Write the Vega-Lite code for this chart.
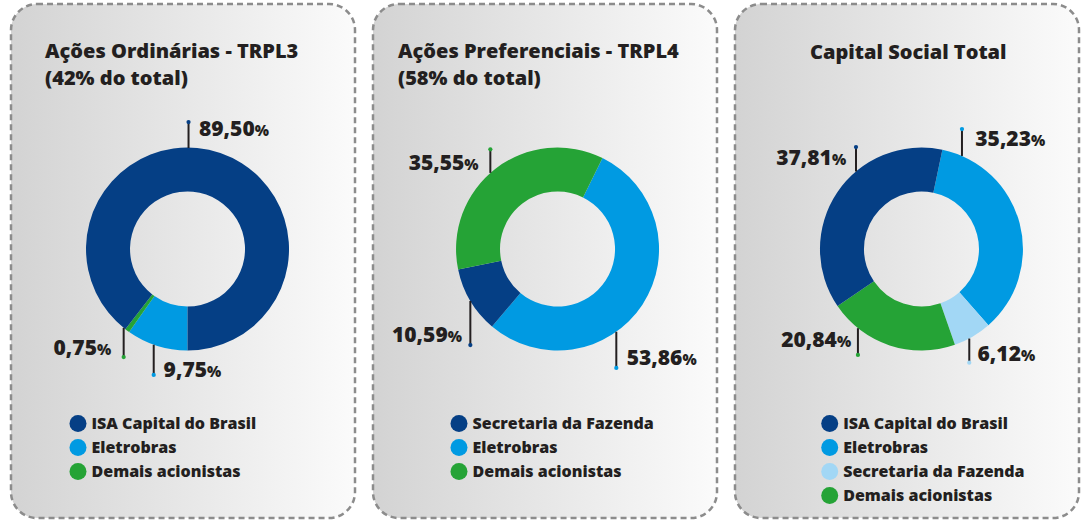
{
  "$schema": "https://vega.github.io/schema/vega-lite/v6.json",
  "padding": {"left": 9, "top": 2, "right": 0, "bottom": 0},
  "spacing": 14,
  "datasets": {
    "slices": [
      {"panel": 1, "holder": "Eletrobras", "pct": 9.75, "ord": 1, "lineX": -33.3, "ringY": -94.3, "dotY": -124.1, "labelX": 19.2, "labelY": -126.1},
      {"panel": 1, "holder": "Demais acionistas", "pct": 0.75, "ord": 2, "lineX": -62.9, "ringY": -77.7, "dotY": -106.4, "labelX": -89.2, "labelY": -104.4},
      {"panel": 1, "holder": "ISA Capital do Brasil", "pct": 89.5, "ord": 3, "lineX": 1, "ringY": 99.5, "dotY": 125.1, "labelX": 66.2, "labelY": 111.3},
      {"panel": 2, "holder": "Eletrobras", "pct": 53.86, "ord": 1, "lineX": 57.9, "ringY": -81.5, "dotY": -117.2, "labelX": 123.0, "labelY": -114.0},
      {"panel": 2, "holder": "Secretaria da Fazenda", "pct": 10.59, "ord": 2, "lineX": -85.9, "ringY": -51.2, "dotY": -94.6, "labelX": -108.2, "labelY": -91.6},
      {"panel": 2, "holder": "Demais acionistas", "pct": 35.55, "ord": 3, "lineX": -66.2, "ringY": 75.0, "dotY": 98.2, "labelX": -91.8, "labelY": 77.5},
      {"panel": 3, "holder": "Eletrobras", "pct": 35.23, "ord": 1, "lineX": 39.9, "ringY": 91.7, "dotY": 118.2, "labelX": 107.9, "labelY": 101.5},
      {"panel": 3, "holder": "Secretaria da Fazenda", "pct": 6.12, "ord": 2, "lineX": 47.1, "ringY": -88.2, "dotY": -112.0, "labelX": 98.0, "labelY": -110.6},
      {"panel": 3, "holder": "Demais acionistas", "pct": 20.84, "ord": 3, "lineX": -62.6, "ringY": -78.0, "dotY": -104.4, "labelX": -83.3, "labelY": -96.6},
      {"panel": 3, "holder": "ISA Capital do Brasil", "pct": 37.81, "ord": 4, "lineX": -64.5, "ringY": 76.4, "dotY": 100.5, "labelX": -88.2, "labelY": 82.5}
    ],
    "titles": [
      {"panel": 1, "text": "Ações Ordinárias - TRPL3", "tx": -140.4, "ty": 188.2},
      {"panel": 1, "text": "(42% do total)", "tx": -140.4, "ty": 161.6},
      {"panel": 2, "text": "Ações Preferenciais - TRPL4", "tx": -157.2, "ty": 188.2},
      {"panel": 2, "text": "(58% do total)", "tx": -157.2, "ty": 161.6},
      {"panel": 3, "text": "Capital Social Total", "tx": -13.0, "ty": 187.2}
    ]
  },
  "hconcat": [
    {
      "width": 344, "height": 514,
      "data": {"name": "slices"},
      "transform": [{"filter": "datum.panel == 1"}],
      "layer": [
        {
          "mark": {"type": "arc", "outerRadius": 101.5, "innerRadius": 57.5},
          "encoding": {
            "x": {"datum": 0, "type": "quantitative", "scale": {"domain": [-173.9, 165.0], "nice": false, "zero": false}, "axis": null},
            "y": {"datum": 0, "type": "quantitative", "scale": {"domain": [-265.0, 241.4], "nice": false, "zero": false}, "axis": null},
            "theta": {"field": "pct", "type": "quantitative", "stack": true, "scale": {"range": [3.14159, 9.42478]}},
            "order": {"field": "ord", "type": "quantitative"},
            "color": {"field": "holder", "type": "nominal",
              "scale": {"domain": ["ISA Capital do Brasil", "Eletrobras", "Demais acionistas"], "range": ["#053f85", "#009ae2", "#25a336"]},
              "legend": {"title": null, "orient": "none", "legendX": 58.5, "legendY": 411}}
          }
        },
        {
          "mark": {"type": "rule", "stroke": "#231f20", "strokeWidth": 2},
          "encoding": {
            "x": {"field": "lineX", "type": "quantitative", "axis": null},
            "y": {"field": "ringY", "type": "quantitative", "axis": null},
            "y2": {"field": "dotY"}
          }
        },
        {
          "mark": {"type": "circle", "size": 18, "opacity": 1},
          "encoding": {
            "x": {"field": "lineX", "type": "quantitative", "axis": null},
            "y": {"field": "dotY", "type": "quantitative", "axis": null},
            "color": {"field": "holder", "type": "nominal"}
          }
        },
        {
          "mark": {"type": "text", "align": "right", "baseline": "alphabetic", "fontSize": 21},
          "encoding": {
            "x": {"field": "labelX", "type": "quantitative", "axis": null},
            "y": {"field": "labelY", "type": "quantitative", "axis": null},
            "text": {"field": "pct", "type": "quantitative", "format": ".2f"}
          }
        },
        {
          "mark": {"type": "text", "align": "left", "baseline": "alphabetic", "fontSize": 15, "text": "%"},
          "encoding": {
            "x": {"field": "labelX", "type": "quantitative", "axis": null},
            "y": {"field": "labelY", "type": "quantitative", "axis": null}
          }
        },
        {
          "data": {"name": "titles"},
          "transform": [{"filter": "datum.panel == 1"}],
          "mark": {"type": "text", "align": "left", "baseline": "alphabetic", "fontSize": 20},
          "encoding": {
            "x": {"field": "tx", "type": "quantitative", "axis": null},
            "y": {"field": "ty", "type": "quantitative", "axis": null},
            "text": {"field": "text"}
          }
        }
      ]
    },
    {
      "width": 344, "height": 514,
      "data": {"name": "slices"},
      "transform": [{"filter": "datum.panel == 2"}],
      "layer": [
        {
          "mark": {"type": "arc", "outerRadius": 101.5, "innerRadius": 57.5},
          "encoding": {
            "x": {"datum": 0, "type": "quantitative", "scale": {"domain": [-181.8, 157.1], "nice": false, "zero": false}, "axis": null},
            "y": {"datum": 0, "type": "quantitative", "scale": {"domain": [-265.0, 241.4], "nice": false, "zero": false}, "axis": null},
            "theta": {"field": "pct", "type": "quantitative", "stack": true, "scale": {"range": [0.459, 6.7422]}},
            "order": {"field": "ord", "type": "quantitative"},
            "color": {"field": "holder", "type": "nominal",
              "scale": {"domain": ["Secretaria da Fazenda", "Eletrobras", "Demais acionistas"], "range": ["#053f85", "#009ae2", "#25a336"]},
              "legend": {"title": null, "orient": "none", "legendX": 77.5, "legendY": 411}}
          }
        },
        {
          "mark": {"type": "rule", "stroke": "#231f20", "strokeWidth": 2},
          "encoding": {
            "x": {"field": "lineX", "type": "quantitative", "axis": null},
            "y": {"field": "ringY", "type": "quantitative", "axis": null},
            "y2": {"field": "dotY"}
          }
        },
        {
          "mark": {"type": "circle", "size": 18, "opacity": 1},
          "encoding": {
            "x": {"field": "lineX", "type": "quantitative", "axis": null},
            "y": {"field": "dotY", "type": "quantitative", "axis": null},
            "color": {"field": "holder", "type": "nominal"}
          }
        },
        {
          "mark": {"type": "text", "align": "right", "baseline": "alphabetic", "fontSize": 21},
          "encoding": {
            "x": {"field": "labelX", "type": "quantitative", "axis": null},
            "y": {"field": "labelY", "type": "quantitative", "axis": null},
            "text": {"field": "pct", "type": "quantitative", "format": ".2f"}
          }
        },
        {
          "mark": {"type": "text", "align": "left", "baseline": "alphabetic", "fontSize": 15, "text": "%"},
          "encoding": {
            "x": {"field": "labelX", "type": "quantitative", "axis": null},
            "y": {"field": "labelY", "type": "quantitative", "axis": null}
          }
        },
        {
          "data": {"name": "titles"},
          "transform": [{"filter": "datum.panel == 2"}],
          "mark": {"type": "text", "align": "left", "baseline": "alphabetic", "fontSize": 20},
          "encoding": {
            "x": {"field": "tx", "type": "quantitative", "axis": null},
            "y": {"field": "ty", "type": "quantitative", "axis": null},
            "text": {"field": "text"}
          }
        }
      ]
    },
    {
      "width": 344, "height": 514,
      "data": {"name": "slices"},
      "transform": [{"filter": "datum.panel == 3"}],
      "layer": [
        {
          "mark": {"type": "arc", "outerRadius": 101.5, "innerRadius": 57.5},
          "encoding": {
            "x": {"datum": 0, "type": "quantitative", "scale": {"domain": [-183.7, 155.2], "nice": false, "zero": false}, "axis": null},
            "y": {"datum": 0, "type": "quantitative", "scale": {"domain": [-265.0, 241.4], "nice": false, "zero": false}, "axis": null},
            "theta": {"field": "pct", "type": "quantitative", "stack": true, "scale": {"range": [0.2077, 6.4909]}},
            "order": {"field": "ord", "type": "quantitative"},
            "color": {"field": "holder", "type": "nominal",
              "scale": {"domain": ["ISA Capital do Brasil", "Eletrobras", "Secretaria da Fazenda", "Demais acionistas"], "range": ["#053f85", "#009ae2", "#a2d7f5", "#25a336"]},
              "legend": {"title": null, "orient": "none", "legendX": 86.2, "legendY": 411}}
          }
        },
        {
          "mark": {"type": "rule", "stroke": "#231f20", "strokeWidth": 2},
          "encoding": {
            "x": {"field": "lineX", "type": "quantitative", "axis": null},
            "y": {"field": "ringY", "type": "quantitative", "axis": null},
            "y2": {"field": "dotY"}
          }
        },
        {
          "mark": {"type": "circle", "size": 18, "opacity": 1},
          "encoding": {
            "x": {"field": "lineX", "type": "quantitative", "axis": null},
            "y": {"field": "dotY", "type": "quantitative", "axis": null},
            "color": {"field": "holder", "type": "nominal"}
          }
        },
        {
          "mark": {"type": "text", "align": "right", "baseline": "alphabetic", "fontSize": 21},
          "encoding": {
            "x": {"field": "labelX", "type": "quantitative", "axis": null},
            "y": {"field": "labelY", "type": "quantitative", "axis": null},
            "text": {"field": "pct", "type": "quantitative", "format": ".2f"}
          }
        },
        {
          "mark": {"type": "text", "align": "left", "baseline": "alphabetic", "fontSize": 15, "text": "%"},
          "encoding": {
            "x": {"field": "labelX", "type": "quantitative", "axis": null},
            "y": {"field": "labelY", "type": "quantitative", "axis": null}
          }
        },
        {
          "data": {"name": "titles"},
          "transform": [{"filter": "datum.panel == 3"}],
          "mark": {"type": "text", "align": "center", "baseline": "alphabetic", "fontSize": 20},
          "encoding": {
            "x": {"field": "tx", "type": "quantitative", "axis": null},
            "y": {"field": "ty", "type": "quantitative", "axis": null},
            "text": {"field": "text"}
          }
        }
      ]
    }
  ],
  "resolve": {
    "scale": {"x": "independent", "y": "independent", "theta": "independent", "color": "independent"},
    "legend": {"color": "independent"}
  },
  "config": {
    "locale": {"number": {"decimal": ",", "thousands": ".", "grouping": [3], "currency": ["R$", ""]}},
    "view": {
      "fill": {"gradient": "linear", "x1": 0, "y1": 0, "x2": 1, "y2": 0, "stops": [{"offset": 0, "color": "#d3d3d3"}, {"offset": 1, "color": "#fbfbfb"}]},
      "stroke": "#8c8c8c",
      "strokeWidth": 2.5,
      "strokeDash": [6, 4],
      "cornerRadius": 26
    },
    "text": {"font": "Open Sans", "fontWeight": 800, "color": "#231f20"},
    "legend": {
      "labelFont": "Open Sans", "labelFontSize": 16, "labelFontWeight": 800, "labelColor": "#231f20",
      "symbolType": "circle", "symbolSize": 289, "symbolStrokeWidth": 0, "symbolOpacity": 1,
      "rowPadding": 7, "labelOffset": 5, "padding": 0, "labelLimit": 300
    }
  }
}
